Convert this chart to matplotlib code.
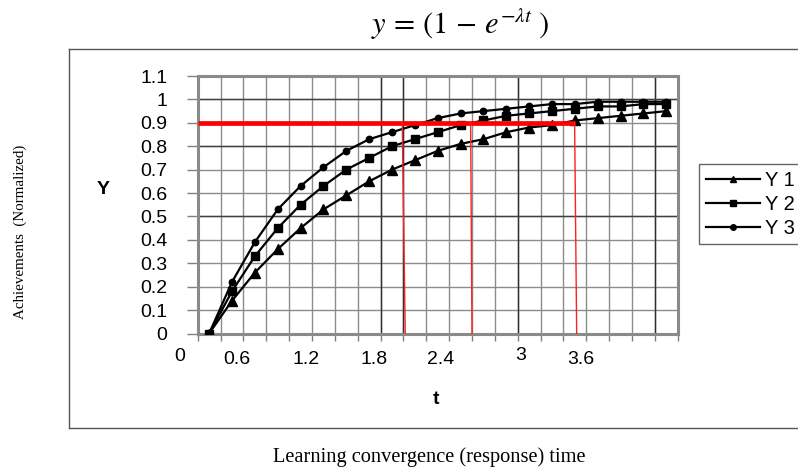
import matplotlib
matplotlib.use("Agg")
import matplotlib.pyplot as plt
from matplotlib.lines import Line2D
from matplotlib.transforms import blended_transform_factory

# ---------------- data ----------------
t_values = [0.0, 0.2, 0.4, 0.6, 0.8, 1.0, 1.2, 1.4, 1.6, 1.8, 2.0,
            2.2, 2.4, 2.6, 2.8, 3.0, 3.2, 3.4, 3.6, 3.8, 4.0]
y1 = [0.0, 0.14, 0.26, 0.36, 0.45, 0.53, 0.59, 0.65, 0.70, 0.74, 0.78,
      0.81, 0.83, 0.86, 0.88, 0.89, 0.91, 0.92, 0.93, 0.94, 0.95]
y2 = [0.0, 0.18, 0.33, 0.45, 0.55, 0.63, 0.70, 0.75, 0.80, 0.83, 0.86,
      0.89, 0.91, 0.93, 0.94, 0.95, 0.96, 0.97, 0.97, 0.98, 0.98]
y3 = [0.0, 0.22, 0.39, 0.53, 0.63, 0.71, 0.78, 0.83, 0.86, 0.89, 0.92,
      0.94, 0.95, 0.96, 0.97, 0.98, 0.98, 0.99, 0.99, 0.99, 0.99]
series_names = ["Y 1", "Y 2", "Y 3"]

# odd, hand-placed x tick labels of the original (t units)
xtick_labels = ["0", "0.6", "1.2", "1.8", "2.4", "3", "3.6"]
xtick_label_pos = [-0.254, 0.242, 0.852, 1.444, 2.028, 2.726, 3.248]
ytick_values = [0, 0.1, 0.2, 0.3, 0.4, 0.5, 0.6, 0.7, 0.8, 0.9, 1.0, 1.1]
ytick_labels = ["0", "0.1", "0.2", "0.3", "0.4", "0.5", "0.6", "0.7",
                "0.8", "0.9", "1", "1.1"]

# 90% threshold and the red drop lines (top t, bottom t)
threshold = 0.9
threshold_end = 3.198
drop_top = [1.69, 2.288, 3.198]
drop_bottom = [1.716, 2.30, 3.216]

# ---------------- figure ----------------
plt.rcParams["mathtext.fontset"] = "stix"
fig = plt.figure(figsize=(7.98, 4.69), dpi=100)
W, H = 798, 469
ax = fig.add_axes([197.7 / W, 1 - 333.5 / H, (677.7 - 197.7) / W, (333.5 - 76) / H])

step = t_values[1] - t_values[0]
xmin, xmax = t_values[0] - step / 2, t_values[-1] + step / 2
ax.set_xlim(xmin, xmax)
ax.set_ylim(0, 1.1)

SANS = "Liberation Sans"
TICK_FS = 14

# grid: boundaries between categories
bounds = [xmin + k * step for k in range(len(t_values) + 1)]
ax.set_xticks([])
ax.set_xticks(bounds, minor=True)
ax.tick_params(axis="x", which="minor", direction="out", length=5,
               width=1, color="#808080", labelbottom=False)
ax.set_yticks(ytick_values)
ax.set_yticklabels(ytick_labels)
ax.tick_params(axis="y", which="major", direction="out", length=8, width=1,
               color="#808080", pad=14, labelsize=TICK_FS)
for lab in ax.get_yticklabels():
    lab.set_fontfamily(SANS)

for b in bounds:
    ax.axvline(b, color="#8c8c8c", lw=1, zorder=1)
for v in ytick_values:
    ax.axhline(v, color="#8c8c8c", lw=1, zorder=1)
for b in [bounds[8], bounds[9], bounds[14], bounds[20]]:
    ax.axvline(b, color="#303030", lw=1, zorder=1.1)
for v in [1.0, 0.8, 0.5]:
    ax.axhline(v, color="#404040", lw=1, zorder=1.1)

for s in ax.spines.values():
    s.set_color("#8a8a8a")
    s.set_linewidth(2.2)

# series
ax.plot(t_values, y1, color="black", lw=1.6, marker="^", ms=6.5, zorder=3, label=series_names[0])
ax.plot(t_values, y2, color="black", lw=1.6, marker="s", ms=6, zorder=3, label=series_names[1])
ax.plot(t_values, y3, color="black", lw=1.6, marker="o", ms=4.6, zorder=3, label=series_names[2])

# red threshold lines
ax.plot([xmin, threshold_end], [threshold, threshold], color="#ff0000", lw=3.4,
        solid_capstyle="butt", zorder=4)
for xt, xb in zip(drop_top, drop_bottom):
    ax.plot([xt, xb], [threshold, 0], color="#ff2020", lw=1.0, zorder=4)

# x tick labels (text placed as in the original)
trans = blended_transform_factory(ax.transData, ax.transAxes)
for lab, xp in zip(xtick_labels, xtick_label_pos):
    dy = -0.1
    if lab == "0":
        dy = -0.09
    if lab == "3":
        dy = -0.087
    ax.text(xp, dy, lab, transform=trans, ha="center", va="center",
            fontsize=TICK_FS, family=SANS)

# axis titles
fig.text(103.5 / W, 1 - 190 / H, "Y", fontsize=14, fontweight="bold",
         family=SANS, ha="center", va="center")
fig.text(436 / W, 1 - 400 / H, "t", fontsize=14, fontweight="bold",
         family=SANS, ha="center", va="center")

# legend
handles = [Line2D([], [], color="black", lw=1.6, marker=m, ms=ms)
           for m, ms in zip(["^", "s", "o"], [5, 5, 4])]
leg = fig.legend(handles, series_names, loc="upper left",
                 bbox_to_anchor=(699.3 / W, 1 - 164.3 / H),
                 prop={"family": SANS, "size": 14.5},
                 frameon=True, fancybox=False, edgecolor="#404040",
                 handlelength=2.7, handletextpad=0.25, labelspacing=0.25,
                 borderpad=0.32, borderaxespad=0)
leg.get_frame().set_linewidth(1)

# outer frame
fig.add_artist(Line2D([69.3 / W, 69.3 / W], [1 - 49.3 / H, 1 - 427.5 / H],
                      transform=fig.transFigure, color="#555555", lw=1))
fig.add_artist(Line2D([69.3 / W, 1.0], [1 - 49.3 / H, 1 - 49.3 / H],
                      transform=fig.transFigure, color="#555555", lw=1))
fig.add_artist(Line2D([69.3 / W, 1.0], [1 - 427.5 / H, 1 - 427.5 / H],
                      transform=fig.transFigure, color="#555555", lw=1))

# title and outer labels
fig.text(460 / W, 1 - 24 / H, r"$y\,=\,(1\,-\,e^{-\lambda t}\;)$", fontsize=22,
         ha="center", va="center")
fig.text(20 / W, 1 - 232 / H, "Achievements  (Normalized)", rotation=90,
         fontsize=10.8, family="Liberation Serif", ha="center", va="center")
fig.text(429 / W, 1 - 457 / H, "Learning convergence (response) time",
         fontsize=14.7, family="Liberation Serif", ha="center", va="center")

fig.savefig("out.png", dpi=100)
